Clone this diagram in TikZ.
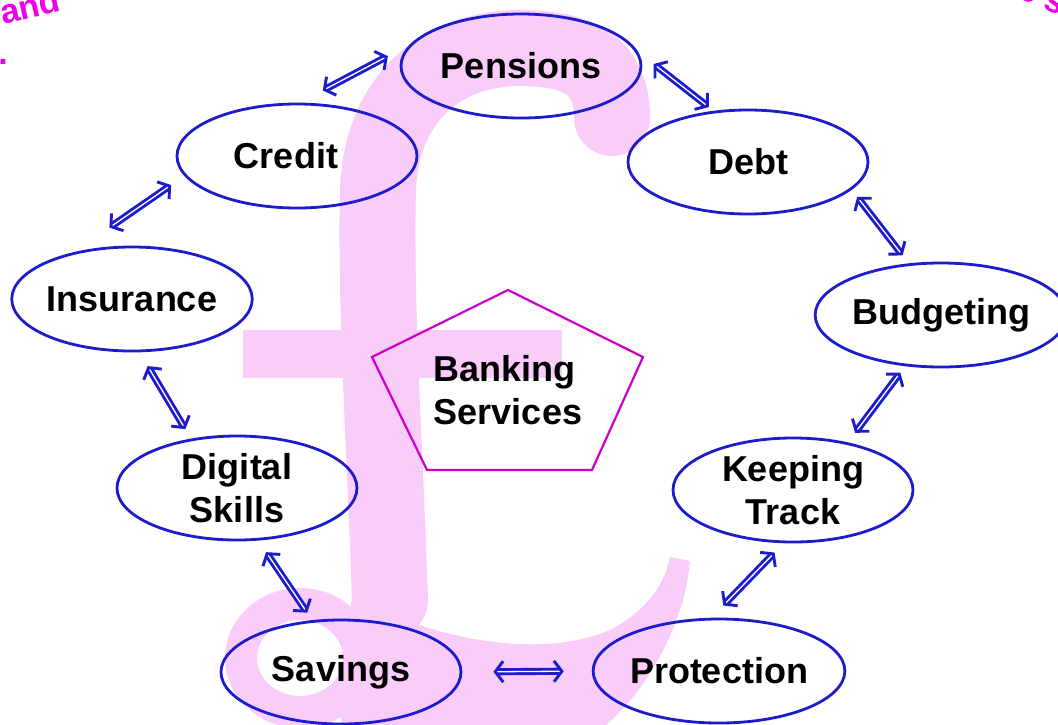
\documentclass[tikz,border=0pt]{standalone}
\usepackage{fontspec}
\setmainfont{Liberation Sans}
\usetikzlibrary{shapes,arrows.meta}

\definecolor{ringblue}{RGB}{28,28,204}
\definecolor{poundpink}{RGB}{250,204,250}
\definecolor{pentmagenta}{RGB}{204,0,204}
\definecolor{titlemagenta}{RGB}{236,0,236}

\begin{document}
\begin{tikzpicture}[x=1pt,y=-1pt,
	topic/.style={ellipse,draw=ringblue,line width=2.8pt,minimum width=240pt,minimum height=104pt,inner sep=0pt,align=center,font=\fontsize{36}{43}\selectfont\bfseries},
	link/.style={draw=ringblue,double=white,double distance=1.3pt,line width=2.9pt,{Straight Barb[length=8pt,width=21pt]}-{Straight Barb[length=8pt,width=21pt]}},
	pound/.style={draw=poundpink,line cap=round},
	corner/.style={text=titlemagenta,font=\fontsize{34}{40}\selectfont\bfseries}]
	\useasboundingbox (0,0) rectangle (1058,724);

	%% pound sign behind everything
	\fill [poundpink] (243,330) rectangle (562,378);
	\draw [pound,line width=76pt] (390,600) .. controls (385,450) and (375,300) .. (378,190) .. controls (382,90) and (450,48) .. (520,48) .. controls (585,48) and (612,70) .. (612,118);
	\draw [pound,line width=32pt] (300,658) ellipse [x radius=59,y radius=54];
	\fill [poundpink] (352,595) .. controls (430,640) and (540,660) .. (610,630) .. controls (645,612) and (665,585) .. (670,557) -- (690,561) .. controls (685,620) and (650,690) .. (600,730) -- (340,730) -- cycle;

	%% text cut off at the corners
	\node [corner,rotate=13] (cornerleft) at (30,6) {and};
	\node [corner] (cornerdot) at (3,62) {.};
	\node [corner,rotate=-22] (cornerright) at (1042,-2) {e s};

	%% topics
	\node [topic] (pensions) at (521,66) {Pensions};
	\node [topic] (debt) at (748,162) {Debt};
	\node [topic,minimum width=234pt] (budgeting) at (941,315) {Budgeting};
	\node [topic] (keeping) at (793,490) {Keeping\\Track};
	\node [topic] (protection) at (719,671) {Protection};
	\node [topic] (savings) at (341,672) {Savings};
	\node [topic] (digital) at (237,488) {Digital\\Skills};
	\node [topic] (insurance) at (132,299) {Insurance};
	\node [topic] (credit) at (297,156) {Credit\hspace{22pt}};

	%% centre
	\draw [pentmagenta,line width=2.2pt] (508,290) -- (643,357) -- (592,470) -- (427,470) -- (372,357) -- cycle;
	\node [align=left,font=\fontsize{36}{43}\selectfont\bfseries] (banking) at (508,390) {Banking\\Services};

	%% double arrows round the ring
	\draw [link,shorten <=26pt,shorten >=25pt] (credit.87) -- (pensions.169);
	\draw [link,shorten <=20pt,shorten >=6pt] (pensions.7) -- (debt.124);
	\draw [link,shorten <=9pt,shorten >=10pt] (debt.345) -- (budgeting.122);
	\draw [link,shorten <=8pt,shorten >=12pt] (budgeting.235) -- (keeping.41);
	\draw [link,shorten <=13pt,shorten >=17pt] (keeping.260) -- (protection.98);
	\draw [link,shorten <=31pt,shorten >=28pt] (savings.east) -- (protection.west);
	\draw [link,shorten <=14pt,shorten >=9pt] (digital.292) -- (savings.119);
	\draw [link,shorten <=16pt,shorten >=11pt] (insurance.278) -- (digital.133);
	\draw [link,shorten <=43pt,shorten >=16pt] (insurance.141) -- (credit.190);

\end{tikzpicture}
\end{document}
